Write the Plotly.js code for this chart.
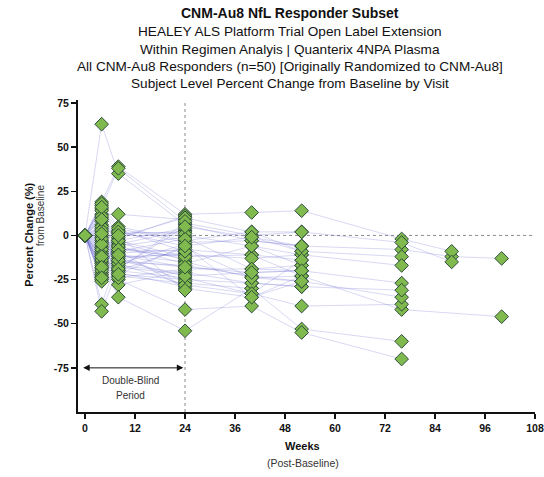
<!DOCTYPE html>
<html>
<head>
<meta charset="utf-8">
<script src="https://cdn.plot.ly/plotly-3.0.1.min.js"></script>
<style>html,body{margin:0;padding:0;background:#fff;}#chart{width:544px;height:477px;}</style>
</head>
<body>
<div id="chart"></div>
<script>
// Visit weeks
const weeks = [0, 4, 8, 24, 40, 52, 76, 88, 100];
const xTicks = [0, 12, 24, 36, 48, 60, 72, 84, 96, 108];
const yTicks = [-75, -50, -25, 0, 25, 50, 75];

// Percent change from baseline per visit, one entry per subject (n=50); null = no visit
const pctW0 = [0,0,0,0,0,0,0,0,0,0, 0,0,0,0,0,0,0,0,0,0, 0,0,0,0,0,0,0,0,0,0, 0,0,0,0,0,0,0,0,0,0, 0,0,0,0,0,0,0,0,0,0];
const pctW4 = [63,19,17,15,12,10,8,6,4,2, 0,-1,-3,-4,-6,-7,-9,-10,-12,-13, -15,-16,-18,-19,-21,-22,-24,-25,-26,-39, -43,18,14,11,5,-2,-8,-11,-14,-17, -20,-23,16,3,-5,1,-12,-18,-24,9];
const pctW8 = [35,39,5,-8,12,-14,2,-20,-5,-11, 0,-17,-23,3,-2,-9,-25,-6,-28,-13, -35,-16,-19,-4,-22,1,-10,-15,-21,-12, -18,-3,4,-7,-1,-24,-12,-20,2,-6, -16,-9,38,-14,-3,-19,-8,-11,0,-22];
const pctW24 = [6,12,-3,-12,9,-18,-6,-24,3,-15, 0,-21,-27,-9,11,-30,-42,-1,-20,-10, -54,-5,7,-14,-25,2,-8,-17,-29,-11, -22,4,-4,-13,10,-19,-26,-7,1,-16, -28,-2,8,-23,-12,5,-9,-18,-31,-6];
const pctW40 = [-3,13,2,-11,null,-21,-1,-33,null,-24, -6,-27,-30,null,null,-35,-40,-19,null,null, -30,null,0,null,-27,null,-11,-23,null,-13, null,null,-3,null,2,-19,null,-24,null,-6, -33,null,null,-21,null,-1,null,null,null,-35];
const pctW52 = [-6,14,2,-23,null,-20,-9,-40,null,-26, -11,-29,-53,null,null,-23,-55,-17,null,null, null,null,2,null,-29,null,-14,-26,null,-11, null,null,-6,null,-9,-20,null,-23,null,-17, -14,null,null,-20,null,-6,null,null,null,-26];
const pctW76 = [-8,-2,-4,-42,null,-27,-12,-39,null,-35, -17,-31,-60,null,null,null,-70,null,null,null, null,null,null,null,null,null,null,null,null,null, null,null,null,null,null,null,null,null,null,null, null,null,null,null,null,null,null,null,null,null];
const pctW88 = [-12,-9,-15,null,null,null,null,null,null,null, null,null,null,null,null,null,null,null,null,null, null,null,null,null,null,null,null,null,null,null, null,null,null,null,null,null,null,null,null,null, null,null,null,null,null,null,null,null,null,null];
const pctW100 = [-13,null,null,-46,null,null,null,null,null,null, null,null,null,null,null,null,null,null,null,null, null,null,null,null,null,null,null,null,null,null, null,null,null,null,null,null,null,null,null,null, null,null,null,null,null,null,null,null,null,null];

const titleLines = [
  "<b>CNM-Au8 NfL Responder Subset</b>",
  "HEALEY ALS Platform Trial Open Label Extension",
  "Within Regimen Analyis | Quanterix 4NPA Plasma",
  "All CNM-Au8 Responders (n=50) [Originally Randomized to CNM-Au8]",
  "Subject Level Percent Change from Baseline by Visit"
];

const visits = [pctW0, pctW4, pctW8, pctW24, pctW40, pctW52, pctW76, pctW88, pctW100];
const nSubj = pctW0.length;

// Subject lines (one trace, null separators)
const lx = [], ly = [], mx = [], my = [];
for (let s = 0; s < nSubj; s++) {
  for (let v = 0; v < weeks.length; v++) {
    const val = visits[v][s];
    if (val !== null && val !== undefined) {
      lx.push(weeks[v]); ly.push(val);
      mx.push(weeks[v]); my.push(val);
    }
  }
  lx.push(null); ly.push(null);
}

const traces = [
  {x: lx, y: ly, type: 'scatter', mode: 'lines', connectgaps: false,
   line: {color: 'rgba(110,110,210,0.3)', width: 0.9}, hoverinfo: 'skip', showlegend: false},
  {x: mx, y: my, type: 'scatter', mode: 'markers',
   marker: {symbol: 'diamond', size: 10.5, color: 'rgb(128,186,78)', line: {color: 'rgb(45,75,60)', width: 1}},
   showlegend: false}
];

const titleY = [1.2798, 1.2189, 1.1625, 1.1067, 1.0535];
const annotations = titleLines.map((t, i) => ({
  text: t, xref: 'paper', yref: 'paper', x: 0.464, y: titleY[i],
  xanchor: 'center', yanchor: 'middle', showarrow: false,
  font: {family: 'Liberation Sans, Arial, sans-serif', size: i === 0 ? 14 : 13.6, color: '#111'}
}));

annotations.push(
  {text: '<b>Percent Change (%)</b>', xref: 'paper', yref: 'paper', x: -0.108, y: 0.567,
   textangle: -90, showarrow: false, xanchor: 'center', yanchor: 'middle',
   font: {family: 'Liberation Sans, Arial, sans-serif', size: 11, color: '#111'}},
  {text: 'from Baseline', xref: 'paper', yref: 'paper', x: -0.083, y: 0.631,
   textangle: -90, showarrow: false, xanchor: 'center', yanchor: 'middle',
   font: {family: 'Liberation Sans, Arial, sans-serif', size: 10, color: '#333'}},
  {text: '<b>Weeks</b>', xref: 'paper', yref: 'paper', x: 0.492, y: -0.109,
   showarrow: false, xanchor: 'center', yanchor: 'middle',
   font: {family: 'Liberation Sans, Arial, sans-serif', size: 11, color: '#111'}},
  {text: '(Post-Baseline)', xref: 'paper', yref: 'paper', x: 0.492, y: -0.163,
   showarrow: false, xanchor: 'center', yanchor: 'middle',
   font: {family: 'Liberation Sans, Arial, sans-serif', size: 10.5, color: '#333'}},
  {text: 'Double-Blind', xref: 'x', yref: 'y', x: 10.8, y: -82, showarrow: false,
   font: {family: 'Liberation Sans, Arial, sans-serif', size: 10, color: '#333'}},
  {text: 'Period', xref: 'x', yref: 'y', x: 10.8, y: -90.5, showarrow: false,
   font: {family: 'Liberation Sans, Arial, sans-serif', size: 10, color: '#333'}},
  // double-headed arrow for double-blind period
  {x: 23.6, y: -75, ax: -0.8, ay: -75, xref: 'x', yref: 'y', axref: 'x', ayref: 'y',
   text: '', showarrow: true, arrowhead: 2, startarrowhead: 2, arrowside: 'end+start',
   arrowsize: 1.3, startarrowsize: 1.3, arrowwidth: 1, arrowcolor: '#111'}
);

const layout = {
  width: 544, height: 477,
  margin: {l: 78, r: 9, t: 100, b: 65},
  paper_bgcolor: '#fff', plot_bgcolor: '#fff',
  font: {family: 'Liberation Sans, Arial, sans-serif', color: '#111'},
  xaxis: {range: [-1.68, 108], tickvals: xTicks, ticktext: xTicks.map(v => '<b>' + v + '</b>'),
          ticks: 'outside', ticklen: 5, tickwidth: 1.5, tickcolor: '#111',
          showline: true, linecolor: '#111', linewidth: 2, showgrid: false, zeroline: false,
          tickfont: {size: 10.5, color: '#111'}},
  yaxis: {range: [-100, 76.7], tickvals: yTicks, ticktext: yTicks.map(v => '<b>' + v + '</b>'),
          ticks: 'outside', ticklen: 5, tickwidth: 1.5, tickcolor: '#111',
          showline: true, linecolor: '#111', linewidth: 2, showgrid: false, zeroline: false,
          tickfont: {size: 10.5, color: '#111'}},
  shapes: [
    {type: 'line', xref: 'x', yref: 'y', x0: 24, x1: 24, y0: -100, y1: 76.7,
     line: {color: 'rgb(140,140,140)', width: 1, dash: 'dot'}, layer: 'below'},
    {type: 'line', xref: 'x', yref: 'y', x0: 0, x1: 107.5, y0: 0, y1: 0,
     line: {color: 'rgb(140,140,140)', width: 1, dash: 'dot'}, layer: 'below'}
  ],
  annotations: annotations,
  showlegend: false
};

Plotly.newPlot('chart', traces, layout, {staticPlot: true, displayModeBar: false});
</script>
</body>
</html>
